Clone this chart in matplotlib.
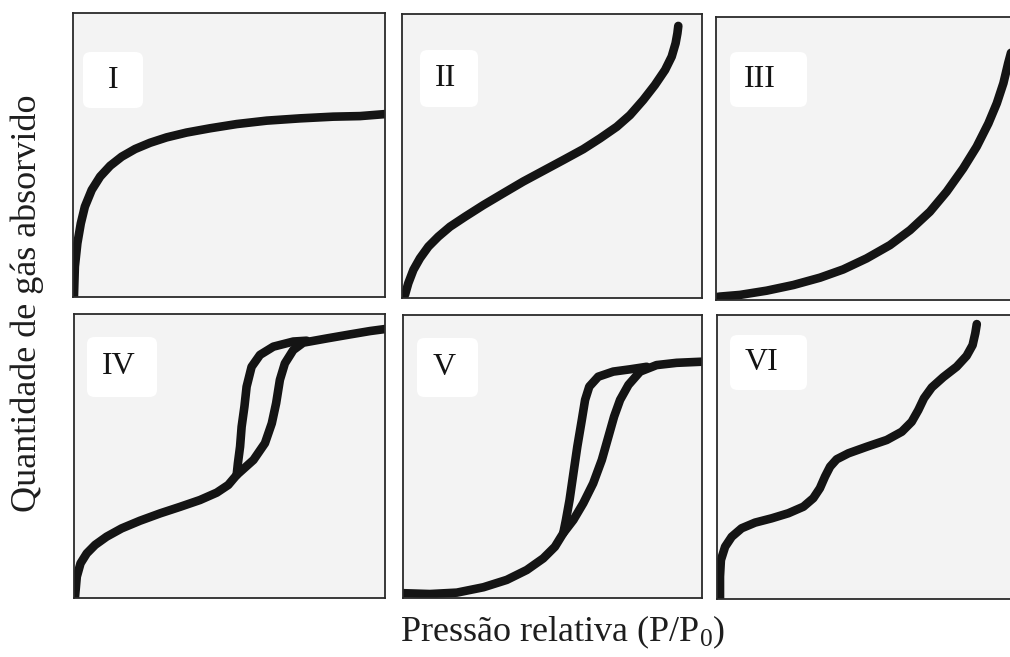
import matplotlib
matplotlib.use("Agg")
import matplotlib.pyplot as plt
from matplotlib.patches import FancyBboxPatch

plt.rcParams.update({
    "font.family": ["Liberation Serif", "DejaVu Serif"],
    "mathtext.fontset": "custom",
    "mathtext.rm": "Liberation Serif",
    "mathtext.it": "Liberation Serif:italic",
})

W, H = 1010, 657
INK = "#141414"
FRAME = "#2a2a2a"
PANEL_BG = "#f3f3f3"

# relative pressure (x) vs. adsorbed amount (y), both normalised to the panel
I_X = [0.003, 0.006, 0.014, 0.025, 0.038, 0.06, 0.087, 0.119, 0.156, 0.199, 0.247, 0.3,
       0.364, 0.439, 0.525, 0.621, 0.728, 0.834, 0.92, 1.0]
I_Y = [0.0, 0.107, 0.189, 0.259, 0.318, 0.377, 0.424, 0.462, 0.494, 0.521, 0.543, 0.562,
       0.579, 0.594, 0.609, 0.621, 0.629, 0.635, 0.637, 0.644]

II_X = [0.01, 0.021, 0.038, 0.06, 0.088, 0.121, 0.16, 0.21, 0.271, 0.338, 0.404, 0.471,
        0.538, 0.604, 0.66, 0.716, 0.76, 0.804, 0.843, 0.877, 0.899, 0.912, 0.918, 0.921]
II_Y = [0.011, 0.052, 0.099, 0.14, 0.181, 0.216, 0.251, 0.286, 0.327, 0.369, 0.41, 0.448,
        0.486, 0.524, 0.562, 0.603, 0.644, 0.697, 0.75, 0.803, 0.85, 0.897, 0.932, 0.958]

III_X = [0.0, 0.013, 0.08, 0.169, 0.258, 0.347, 0.424, 0.502, 0.58, 0.647, 0.713, 0.769,
         0.824, 0.869, 0.908, 0.936, 0.958, 0.974, 0.986, 1.0]
III_Y = [0.01, 0.012, 0.018, 0.033, 0.053, 0.079, 0.108, 0.147, 0.194, 0.247, 0.312, 0.383,
         0.465, 0.542, 0.624, 0.695, 0.766, 0.837, 0.884, 0.94]

IV_ADS_X = [0.003, 0.009, 0.021, 0.041, 0.068, 0.105, 0.153, 0.212, 0.277, 0.341, 0.405,
            0.459, 0.496, 0.523, 0.577, 0.614, 0.636, 0.65, 0.662, 0.678, 0.705, 0.737,
            0.813, 0.887, 0.952, 1.0]
IV_ADS_Y = [0.0, 0.075, 0.122, 0.157, 0.187, 0.216, 0.245, 0.272, 0.298, 0.321, 0.345,
            0.371, 0.398, 0.433, 0.486, 0.545, 0.615, 0.686, 0.768, 0.826, 0.873, 0.899,
            0.914, 0.928, 0.94, 0.947]
IV_DES_X = [0.748, 0.705, 0.641, 0.598, 0.571, 0.555, 0.548, 0.539, 0.534, 0.527, 0.523]
IV_DES_Y = [0.906, 0.903, 0.885, 0.856, 0.814, 0.744, 0.674, 0.603, 0.533, 0.474, 0.433]

V_ADS_X = [0.0, 0.09, 0.18, 0.269, 0.347, 0.414, 0.469, 0.508, 0.536, 0.57, 0.603, 0.636,
           0.665, 0.687, 0.706, 0.726, 0.754, 0.793, 0.848, 0.915, 1.0]
V_ADS_Y = [0.017, 0.014, 0.019, 0.038, 0.064, 0.099, 0.14, 0.181, 0.229, 0.276, 0.335,
           0.405, 0.488, 0.57, 0.641, 0.7, 0.753, 0.8, 0.823, 0.831, 0.835]
V_DES_X = [0.815, 0.759, 0.703, 0.653, 0.623, 0.609, 0.598, 0.583, 0.57, 0.557, 0.545, 0.536]
V_DES_Y = [0.817, 0.808, 0.8, 0.782, 0.747, 0.7, 0.629, 0.535, 0.441, 0.346, 0.276, 0.229]

VI_X = [0.01, 0.01, 0.013, 0.027, 0.049, 0.082, 0.127, 0.182, 0.238, 0.288, 0.321, 0.343,
        0.36, 0.377, 0.399, 0.438, 0.499, 0.566, 0.616, 0.649, 0.671, 0.69, 0.716, 0.754,
        0.799, 0.832, 0.852, 0.861, 0.866]
VI_Y = [0.0, 0.079, 0.137, 0.184, 0.219, 0.249, 0.269, 0.284, 0.302, 0.325, 0.355, 0.39,
        0.431, 0.466, 0.492, 0.513, 0.536, 0.56, 0.589, 0.624, 0.665, 0.707, 0.745, 0.781,
        0.818, 0.856, 0.894, 0.936, 0.968]

LABELS = ["I", "II", "III", "IV", "V", "VI"]
CURVES = [
    [(I_X, I_Y)],
    [(II_X, II_Y)],
    [(III_X, III_Y)],
    [(IV_ADS_X, IV_ADS_Y), (IV_DES_X, IV_DES_Y)],
    [(V_ADS_X, V_ADS_Y), (V_DES_X, V_DES_Y)],
    [(VI_X, VI_Y)],
]

# panel rectangles in pixels (left, top, right, bottom)
PANELS = [
    (73, 13, 385, 297), (402, 14, 702, 298), (716, 17, 1016, 300),
    (74, 314, 385, 598), (403, 315, 702, 598), (717, 315, 1017, 599),
]
# white tag behind each numeral (left, top, right, bottom) and text inset, in pixels
TAGS = [
    (83, 52, 143, 108, 25), (420, 50, 478, 107, 15), (730, 52, 807, 107, 14),
    (87, 337, 157, 397, 15), (417, 338, 478, 397, 16), (730, 335, 807, 390, 15),
]

fig = plt.figure(figsize=(W / 100, H / 100), dpi=100)
fig.patch.set_facecolor("white")

for (l, t, r, b), (tl, tt, tr, tb, inset), lab, curves in zip(PANELS, TAGS, LABELS, CURVES):
    ax = fig.add_axes([l / W, 1 - b / H, (r - l) / W, (b - t) / H])
    ax.set_facecolor(PANEL_BG)
    ax.set_xlim(0, 1)
    ax.set_ylim(0, 1)
    ax.set_xticks([])
    ax.set_yticks([])
    for s in ax.spines.values():
        s.set_color(FRAME)
        s.set_linewidth(1.3)
        s.set_zorder(5)
    for x, y in curves:
        ax.plot(x, y, color=INK, lw=6.2, solid_capstyle="round",
                solid_joinstyle="round", zorder=3)
    # numeral tag
    bx0 = (tl - l) / (r - l); bx1 = (tr - l) / (r - l)
    by0 = (b - tb) / (b - t); by1 = (b - tt) / (b - t)
    ax.add_patch(FancyBboxPatch((bx0, by0), bx1 - bx0, by1 - by0,
                                boxstyle="round,pad=0,rounding_size=0.025",
                                transform=ax.transAxes, facecolor="white",
                                edgecolor="none", zorder=2))
    ax.text(bx0 + inset / (r - l), (by0 + by1) / 2, lab, transform=ax.transAxes,
            ha="left", va="center", fontsize=23, color=INK, zorder=4)

fig.text(27 / W, 1 - 303 / H, "Quantidade de gás absorvido", rotation=90,
         ha="center", va="center", fontsize=26, color="#1e1e1e")
fig.text(563 / W, 1 - 632 / H, r"Pressão relativa (P/P$_{\mathrm{0}}$)",
         ha="center", va="center", fontsize=26, color="#1e1e1e")

fig.savefig("out.png", dpi=100, facecolor="white")
